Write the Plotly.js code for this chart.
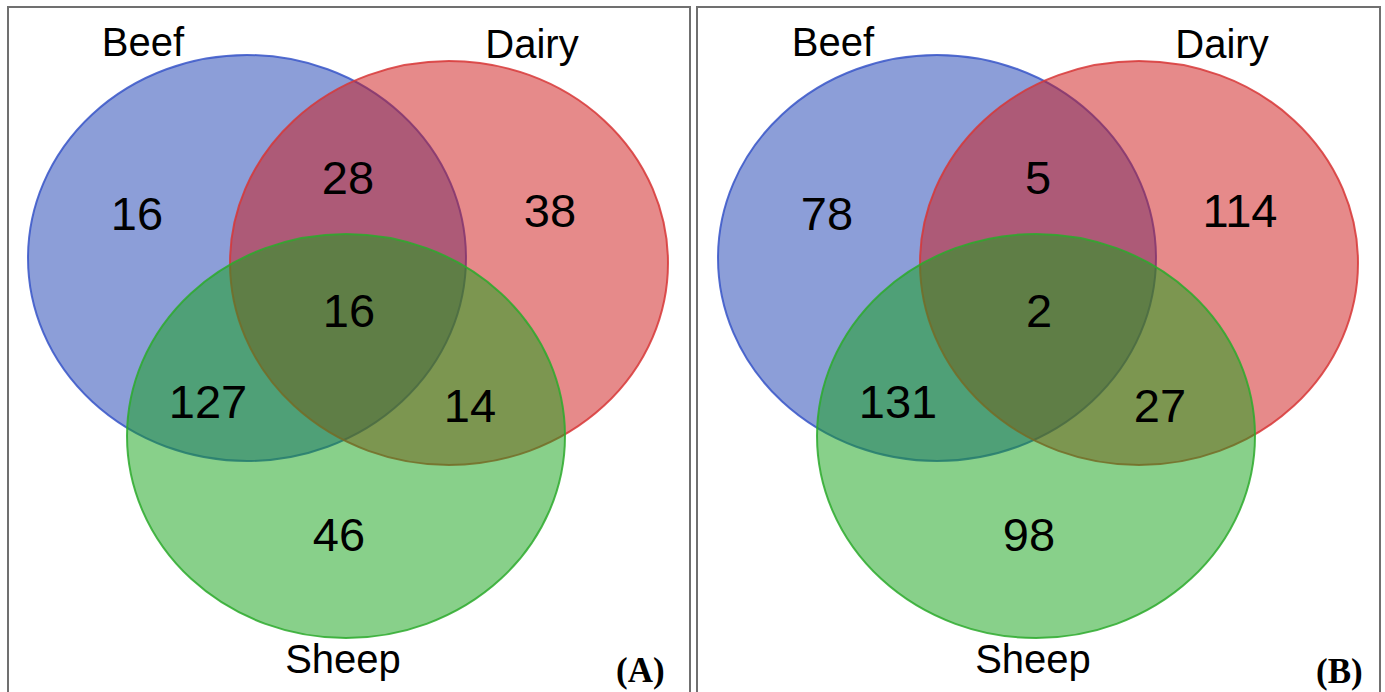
<!DOCTYPE html>
<html>
<head>
<meta charset="utf-8">
<script src="https://cdn.plot.ly/plotly-3.0.1.min.js"></script>
<style>html,body{margin:0;padding:0;background:#fff;}#chart{width:1385px;height:692px;}</style>
</head>
<body>
<div id="chart"></div>
<script>
// ---- data ----
const setNames = ['Beef', 'Dairy', 'Sheep'];
// region order: Beef only, Dairy only, Sheep only, Beef∩Dairy, Beef∩Sheep, Dairy∩Sheep, all three
const regionNames = ['Beef only', 'Dairy only', 'Sheep only', 'Beef & Dairy', 'Beef & Sheep', 'Dairy & Sheep', 'Beef & Dairy & Sheep'];
const countsA = [16, 38, 46, 28, 127, 14, 16];
const countsB = [78, 114, 98, 5, 131, 27, 2];
const panelLabels = ['(A)', '(B)'];

// ---- layout geometry (pixel-like coordinates) ----
const W = 1385, H = 692;
const panelOffsets = [0, 690];
const panelBoxes = [[8, 7, 690, 720], [697, 7, 1380, 720]];
// ellipse geometry per set for panel A: [cx, cy, rx, ry]
const ellipseGeom = [[247, 258, 219, 203], [449, 263, 219, 202], [346, 436, 219, 202]];
const fills = ['rgba(25,61,177,0.5)', 'rgba(205,21,21,0.5)', 'rgba(17,161,21,0.5)'];
const strokes = ['rgba(55,85,200,0.85)', 'rgba(215,55,55,0.85)', 'rgba(45,170,45,0.85)'];
const regionPos = [[137, 218], [550, 215], [339, 539], [348, 182], [208, 406], [470, 410], [349, 315]];
const labelPos = [[143, 46], [532, 48], [343, 663]];
const panelLabelPos = [[640, 670], [1339, 671]];

const shapes = [];
const traces = [];
const annotations = [];
[countsA, countsB].forEach((counts, p) => {
  const dx = panelOffsets[p];
  const b = panelBoxes[p];
  setNames.forEach((name, i) => {
    const [cx, cy, rx, ry] = ellipseGeom[i];
    shapes.push({type: 'circle', xref: 'x', yref: 'y', layer: 'below',
      x0: cx - rx + dx, x1: cx + rx + dx, y0: cy - ry, y1: cy + ry,
      fillcolor: fills[i], line: {color: strokes[i], width: 2}});
  });
  shapes.push({type: 'rect', xref: 'x', yref: 'y', layer: 'below', x0: b[0], y0: b[1], x1: b[2], y1: b[3],
    line: {color: '#707070', width: 2}, fillcolor: 'rgba(0,0,0,0)'});
  traces.push({
    type: 'scatter', mode: 'text', hoverinfo: 'text',
    x: regionPos.map(r => r[0] + dx), y: regionPos.map(r => r[1]),
    text: counts.map(String), customdata: regionNames,
    textposition: 'middle center',
    textfont: {family: 'Liberation Sans, Arial, sans-serif', size: 47, color: '#000'},
    showlegend: false, cliponaxis: false
  });
  traces.push({
    type: 'scatter', mode: 'text', hoverinfo: 'text',
    x: labelPos.map(r => r[0] + dx), y: labelPos.map(r => r[1]),
    text: setNames, textposition: 'middle center',
    textfont: {family: 'Liberation Sans, Arial, sans-serif', size: 40, color: '#000'},
    showlegend: false, cliponaxis: false
  });
  annotations.push({xref: 'x', yref: 'y', x: panelLabelPos[p][0], y: panelLabelPos[p][1],
    text: '<b>' + panelLabels[p] + '</b>', showarrow: false, xanchor: 'center', yanchor: 'middle',
    font: {family: 'Liberation Serif, Times New Roman, serif', size: 35, color: '#000'}});
});

const layout = {
  width: W, height: H,
  margin: {l: 0, r: 0, t: 0, b: 0},
  paper_bgcolor: '#fff', plot_bgcolor: 'rgba(0,0,0,0)',
  xaxis: {range: [0, W], visible: false, fixedrange: true},
  yaxis: {range: [H, 0], visible: false, fixedrange: true},
  shapes: shapes,
  annotations: annotations,
  showlegend: false
};
Plotly.newPlot('chart', traces, layout, {displayModeBar: false, staticPlot: true});
</script>
</body>
</html>
